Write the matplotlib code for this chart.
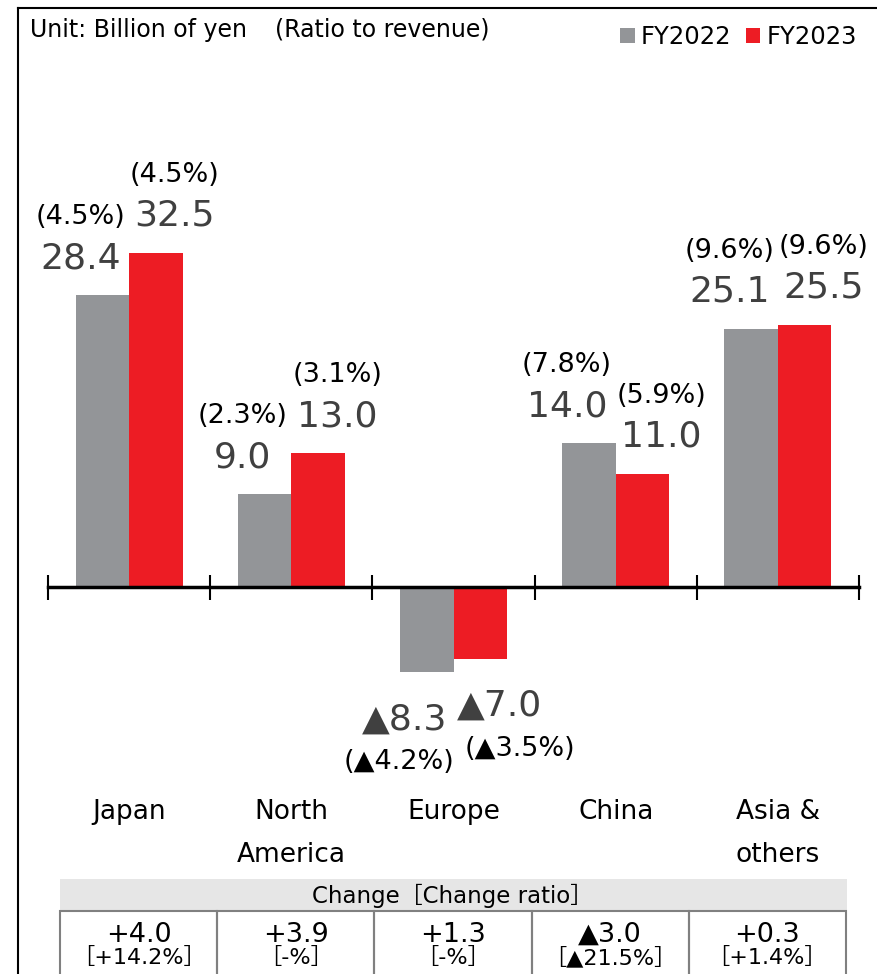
import numpy as np
import matplotlib
matplotlib.use("Agg")
import matplotlib.pyplot as plt
import matplotlib.transforms as mtransforms
from matplotlib.patches import Rectangle
from matplotlib.lines import Line2D

# operating profit by region, billion yen
regions = ["Japan", "North\nAmerica", "Europe", "China", "Asia &\nothers"]
fy2022 = [28.4, 9.0, -8.3, 14.0, 25.1]
fy2023 = [32.5, 13.0, -7.0, 11.0, 25.5]
ratio2022 = [4.5, 2.3, -4.2, 7.8, 9.6]
ratio2023 = [4.5, 3.1, -3.5, 5.9, 9.6]
change = [4.0, 3.9, 1.3, -3.0, 0.3]
change_ratio = [14.2, None, None, -21.5, 1.4]
series = ["FY2022", "FY2023"]

GRAY = "#939598"
RED = "#ed1c24"
LABEL = "#404040"
W, H = 877, 974


def fx(px):
    return px / W


def fy(py):
    return 1 - py / H


def fmt(v):
    return f"\u25b2{abs(v):.1f}" if v < 0 else f"{v:.1f}"


def fmt_pct(v):
    return f"(\u25b2{abs(v):.1f}%)" if v < 0 else f"({v:.1f}%)"


def fmt_chg(v):
    return f"\u25b2{abs(v):.1f}" if v < 0 else f"+{v:.1f}"


def fmt_chg_ratio(v):
    if v is None:
        return "\uff3b-%\uff3d"
    return f"\uff3b\u25b2{abs(v):.1f}%\uff3d" if v < 0 else f"\uff3b+{v:.1f}%\uff3d"


plt.rcParams["font.family"] = ["DejaVu Sans", "Noto Sans CJK JP"]

fig = plt.figure(figsize=(W / 100, H / 100), dpi=100)

# frame lines on top and left
fig.add_artist(Line2D([fx(18), fx(877)], [fy(8), fy(8)], color="black", lw=1.5))
fig.add_artist(Line2D([fx(18), fx(18)], [fy(8), fy(974)], color="black", lw=1.5))

ax_top, ax_bot, zero_px, ppu = 60, 780, 587, 10.28
ax = fig.add_axes([fx(48), fy(ax_bot), fx(859) - fx(48), fy(ax_top) - fy(ax_bot)])
ax.set_xlim(-0.5, 4.5)
ax.set_ylim(-(ax_bot - zero_px) / ppu, (zero_px - ax_top) / ppu)

x = np.arange(len(regions))
w = 0.33
b1 = ax.bar(x - w / 2, fy2022, w, color=GRAY, label=series[0])
b2 = ax.bar(x + w / 2, fy2023, w, color=RED, label=series[1])

for s in ["top", "left", "right"]:
    ax.spines[s].set_visible(False)
ax.spines["bottom"].set_position(("data", 0))
ax.spines["bottom"].set_linewidth(2.5)
ax.spines["bottom"].set_zorder(5)
ax.set_yticks([])
ax.set_xticks(np.arange(-0.5, 5, 1))
ax.tick_params(axis="x", direction="inout", length=18, width=1.5,
               labelbottom=False)

# value and ratio labels
for xs, vals, ratios, dx, dxn in [(x - w / 2, fy2022, ratio2022, -22, -28),
                                  (x + w / 2, fy2023, ratio2023, 19, 40)]:
    for xi, v, r in zip(xs, vals, ratios):
        if v >= 0:
            dy_v, dy_r, dx_r = 27, 71, dx
        else:
            dy_v, dy_r, dx_r = -57, -97, dxn
        ax.annotate(fmt(v), (xi, v), xytext=(dx, dy_v), textcoords="offset pixels",
                    ha="center", va="baseline", fontsize=26, color=LABEL)
        ax.annotate(fmt_pct(r), (xi, v), xytext=(dx_r, dy_r), textcoords="offset pixels",
                    ha="center", va="baseline", fontsize=19.5, color="black")

# region names under the axis
trans = mtransforms.blended_transform_factory(ax.transData, fig.transFigure)
for xi, name in zip(x, regions):
    ax.text(xi, fy(799), name, transform=trans, ha="center", va="top",
            fontsize=19, linespacing=1.85)

# header
fig.text(fx(30), fy(37), "Unit: Billion of yen", fontsize=17, va="baseline")
fig.text(fx(275), fy(37), "(Ratio to revenue)", fontsize=17, va="baseline")
fig.legend(handles=[b1, b2], loc="upper right", bbox_to_anchor=(fx(869), fy(13)),
           ncol=2, frameon=False, fontsize=17.5, handlelength=0.6,
           handleheight=0.6, handletextpad=0.25, columnspacing=0.6, borderpad=0)

# change table
tx0, tx1 = 60, 846
cw = (tx1 - tx0) / len(regions)
fig.add_artist(Rectangle((fx(tx0), fy(911)), fx(tx1 + 1) - fx(tx0), fy(879) - fy(911),
                         transform=fig.transFigure, facecolor="#e6e6e6", edgecolor="none"))
fig.text(fx((tx0 + tx1) / 2), fy(903), "Change\uff3bChange ratio\uff3d",
         ha="center", va="baseline", fontsize=16.5)
for i, (c, cr) in enumerate(zip(change, change_ratio)):
    left = tx0 + i * cw
    fig.add_artist(Rectangle((fx(left), fy(1000)), fx(cw), fy(911) - fy(1000),
                             transform=fig.transFigure, facecolor="none",
                             edgecolor="#808080", lw=1.5))
    fig.text(fx(left + cw / 2), fy(942), fmt_chg(c), ha="center", va="baseline",
             fontsize=19.5)
    fig.text(fx(left + cw / 2), fy(964), fmt_chg_ratio(cr), ha="center",
             va="baseline", fontsize=16)

fig.savefig("out.png", dpi=100)
